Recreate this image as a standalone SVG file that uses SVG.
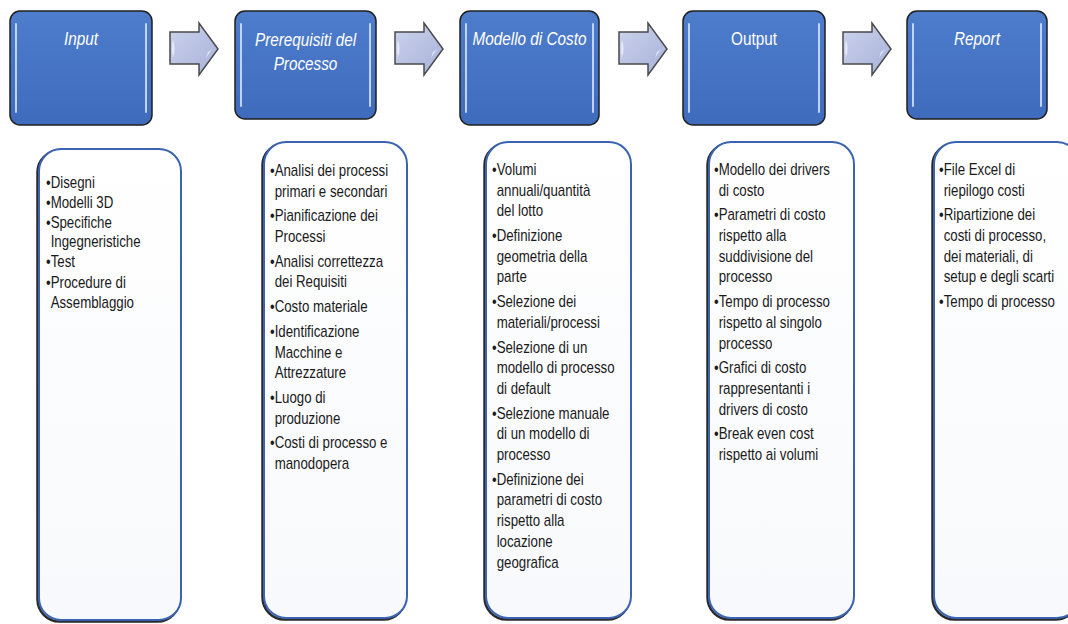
<svg xmlns="http://www.w3.org/2000/svg" width="1068" height="624" viewBox="0 0 1068 624">
<defs>
<linearGradient id="hdrGrad" x1="0" y1="0" x2="0" y2="1">
<stop offset="0" stop-color="#4e7dcc"/>
<stop offset="1" stop-color="#3f6bbd"/>
</linearGradient>
<linearGradient id="arrGrad" x1="0" y1="0" x2="1" y2="1">
<stop offset="0" stop-color="#cdd3ec"/>
<stop offset="1" stop-color="#a7b1da"/>
</linearGradient>
<linearGradient id="bodyGrad" x1="0" y1="0" x2="0" y2="1">
<stop offset="0" stop-color="#ffffff"/>
<stop offset="1" stop-color="#f8f9fc"/>
</linearGradient>
<style>
.hbox{fill:url(#hdrGrad);stroke:#1f1f1f;stroke-width:1.5}
.hl{stroke:#d6e4ff;stroke-width:2;stroke-linecap:round;opacity:.85;fill:none}
.hdr{font-family:"Liberation Sans",Arial,sans-serif;font-size:18px;fill:#ffffff;font-style:italic;text-anchor:middle}
.up{font-style:normal}
.bshadow{fill:none;stroke:#2a2a2a;stroke-width:2.5}
.bbox{fill:url(#bodyGrad);stroke:#3b63b2;stroke-width:2}
.tx{font-family:"Liberation Sans",Arial,sans-serif;font-size:16px;fill:#1a1a1a}
.arr{fill:url(#arrGrad);stroke:#4a4a4a;stroke-width:1.5;stroke-linejoin:miter}
.ahl{fill:#ffffff;opacity:.6}
</style>
</defs>
<rect width="1068" height="624" fill="#ffffff"/>

<g id="connectors">
<path class="arr" d="M170,32 H199 V23 L218,49 L199,75 V64 H170 Z"/>
<path class="ahl" d="M173,40 Q176,48 173,58 Q171,48 173,40 Z"/>
<path class="ahl" d="M208,52 L212,49 L206,58 Z"/>
<path class="arr" d="M395,32 H424 V23 L443,49 L424,75 V64 H395 Z"/>
<path class="ahl" d="M398,40 Q401,48 398,58 Q396,48 398,40 Z"/>
<path class="ahl" d="M433,52 L437,49 L431,58 Z"/>
<path class="arr" d="M619,32 H648 V23 L667,49 L648,75 V64 H619 Z"/>
<path class="ahl" d="M622,40 Q625,48 622,58 Q620,48 622,40 Z"/>
<path class="ahl" d="M657,52 L661,49 L655,58 Z"/>
<path class="arr" d="M843,32 H872 V23 L891,49 L872,75 V64 H843 Z"/>
<path class="ahl" d="M846,40 Q849,48 846,58 Q844,48 846,40 Z"/>
<path class="ahl" d="M881,52 L885,49 L879,58 Z"/>
</g>

<g id="h-input">
<rect class="hbox" x="10" y="11" width="142" height="114" rx="10"/>
<path class="hl" d="M16,24 V112 M146,24 V112"/>
<text class="hdr" transform="translate(81,45) scale(0.85,1)">Input</text>
</g>
<g id="h-prereq">
<rect class="hbox" x="235" y="11" width="141" height="108" rx="10"/>
<path class="hl" d="M241,24 V106 M370,24 V106"/>
<text class="hdr" transform="translate(305.5,46) scale(0.85,1)">Prerequisiti del</text>
<text class="hdr" transform="translate(305.5,70) scale(0.85,1)">Processo</text>
</g>
<g id="h-modello">
<rect class="hbox" x="460" y="11" width="139" height="114" rx="10"/>
<path class="hl" d="M466,24 V112 M593,24 V112"/>
<text class="hdr" transform="translate(529.5,45) scale(0.85,1)">Modello di Costo</text>
</g>
<g id="h-output">
<rect class="hbox" x="683" y="11" width="142" height="114" rx="10"/>
<path class="hl" d="M689,24 V112 M819,24 V112"/>
<text class="hdr up" transform="translate(754,45) scale(0.85,1)">Output</text>
</g>
<g id="h-report">
<rect class="hbox" x="907" y="11" width="140" height="108" rx="10"/>
<path class="hl" d="M913,24 V106 M1041,24 V106"/>
<text class="hdr" transform="translate(977,45) scale(0.85,1)">Report</text>
</g>

<g id="b-input">
<rect class="bshadow" x="37.5" y="150.5" width="142" height="471" rx="22"/>
<rect class="bbox" x="39" y="149" width="142" height="471" rx="22"/>
<g transform="translate(46,0) scale(0.83,1)">
<text class="tx" x="0" y="188">•Disegni</text>
<text class="tx" x="0" y="208">•Modelli 3D</text>
<text class="tx" x="0" y="228">•Specifiche</text>
<text class="tx" x="5.6" y="247">Ingegneristiche</text>
<text class="tx" x="0" y="267">•Test</text>
<text class="tx" x="0" y="288">•Procedure di</text>
<text class="tx" x="5.6" y="308">Assemblaggio</text>
</g>
</g>

<g id="b-prereq">
<rect class="bshadow" x="262.5" y="143.5" width="143" height="476" rx="22"/>
<rect class="bbox" x="264" y="142" width="143" height="476" rx="22"/>
<g transform="translate(270,0) scale(0.83,1)">
<text class="tx" x="0" y="176">•Analisi dei processi</text>
<text class="tx" x="5.6" y="196.7">primari e secondari</text>
<text class="tx" x="0" y="221.4">•Pianificazione dei</text>
<text class="tx" x="5.6" y="242.1">Processi</text>
<text class="tx" x="0" y="266.8">•Analisi correttezza</text>
<text class="tx" x="5.6" y="287.5">dei Requisiti</text>
<text class="tx" x="0" y="312.2">•Costo materiale</text>
<text class="tx" x="0" y="336.9">•Identificazione</text>
<text class="tx" x="5.6" y="357.6">Macchine e</text>
<text class="tx" x="5.6" y="378.3">Attrezzature</text>
<text class="tx" x="0" y="403">•Luogo di</text>
<text class="tx" x="5.6" y="423.7">produzione</text>
<text class="tx" x="0" y="448.4">•Costi di processo e</text>
<text class="tx" x="5.6" y="469.1">manodopera</text>
</g>
</g>

<g id="b-modello">
<rect class="bshadow" x="484.5" y="143.5" width="145" height="476" rx="22"/>
<rect class="bbox" x="486" y="142" width="145" height="476" rx="22"/>
<g transform="translate(492,0) scale(0.83,1)">
<text class="tx" x="0" y="175">•Volumi</text>
<text class="tx" x="5.6" y="195.7">annuali/quantità</text>
<text class="tx" x="5.6" y="216.4">del lotto</text>
<text class="tx" x="0" y="241.1">•Definizione</text>
<text class="tx" x="5.6" y="261.8">geometria della</text>
<text class="tx" x="5.6" y="282.5">parte</text>
<text class="tx" x="0" y="307.2">•Selezione dei</text>
<text class="tx" x="5.6" y="327.9">materiali/processi</text>
<text class="tx" x="0" y="352.6">•Selezione di un</text>
<text class="tx" x="5.6" y="373.3">modello di processo</text>
<text class="tx" x="5.6" y="394">di default</text>
<text class="tx" x="0" y="418.7">•Selezione manuale</text>
<text class="tx" x="5.6" y="439.4">di un modello di</text>
<text class="tx" x="5.6" y="460.1">processo</text>
<text class="tx" x="0" y="484.8">•Definizione dei</text>
<text class="tx" x="5.6" y="505.5">parametri di costo</text>
<text class="tx" x="5.6" y="526.2">rispetto alla</text>
<text class="tx" x="5.6" y="546.9">locazione</text>
<text class="tx" x="5.6" y="567.6">geografica</text>
</g>
</g>

<g id="b-output">
<rect class="bshadow" x="707.5" y="143.5" width="145" height="476" rx="22"/>
<rect class="bbox" x="709" y="142" width="145" height="476" rx="22"/>
<g transform="translate(714,0) scale(0.83,1)">
<text class="tx" x="0" y="175">•Modello dei drivers</text>
<text class="tx" x="5.6" y="195.7">di costo</text>
<text class="tx" x="0" y="220.4">•Parametri di costo</text>
<text class="tx" x="5.6" y="241.1">rispetto alla</text>
<text class="tx" x="5.6" y="261.8">suddivisione del</text>
<text class="tx" x="5.6" y="282.5">processo</text>
<text class="tx" x="0" y="307.2">•Tempo di processo</text>
<text class="tx" x="5.6" y="327.9">rispetto al singolo</text>
<text class="tx" x="5.6" y="348.6">processo</text>
<text class="tx" x="0" y="373.3">•Grafici di costo</text>
<text class="tx" x="5.6" y="394">rappresentanti i</text>
<text class="tx" x="5.6" y="414.7">drivers di costo</text>
<text class="tx" x="0" y="439.4">•Break even cost</text>
<text class="tx" x="5.6" y="460.1">rispetto ai volumi</text>
</g>
</g>

<g id="b-report">
<rect class="bshadow" x="932.5" y="143.5" width="145" height="476" rx="22"/>
<rect class="bbox" x="934" y="142" width="145" height="476" rx="22"/>
<g transform="translate(939,0) scale(0.83,1)">
<text class="tx" x="0" y="175">•File Excel di</text>
<text class="tx" x="5.6" y="195.7">riepilogo costi</text>
<text class="tx" x="0" y="220.4">•Ripartizione dei</text>
<text class="tx" x="5.6" y="241.1">costi di processo,</text>
<text class="tx" x="5.6" y="261.8">dei materiali, di</text>
<text class="tx" x="5.6" y="282.5">setup e degli scarti</text>
<text class="tx" x="0" y="307.2">•Tempo di processo</text>
</g>
</g>
</svg>
